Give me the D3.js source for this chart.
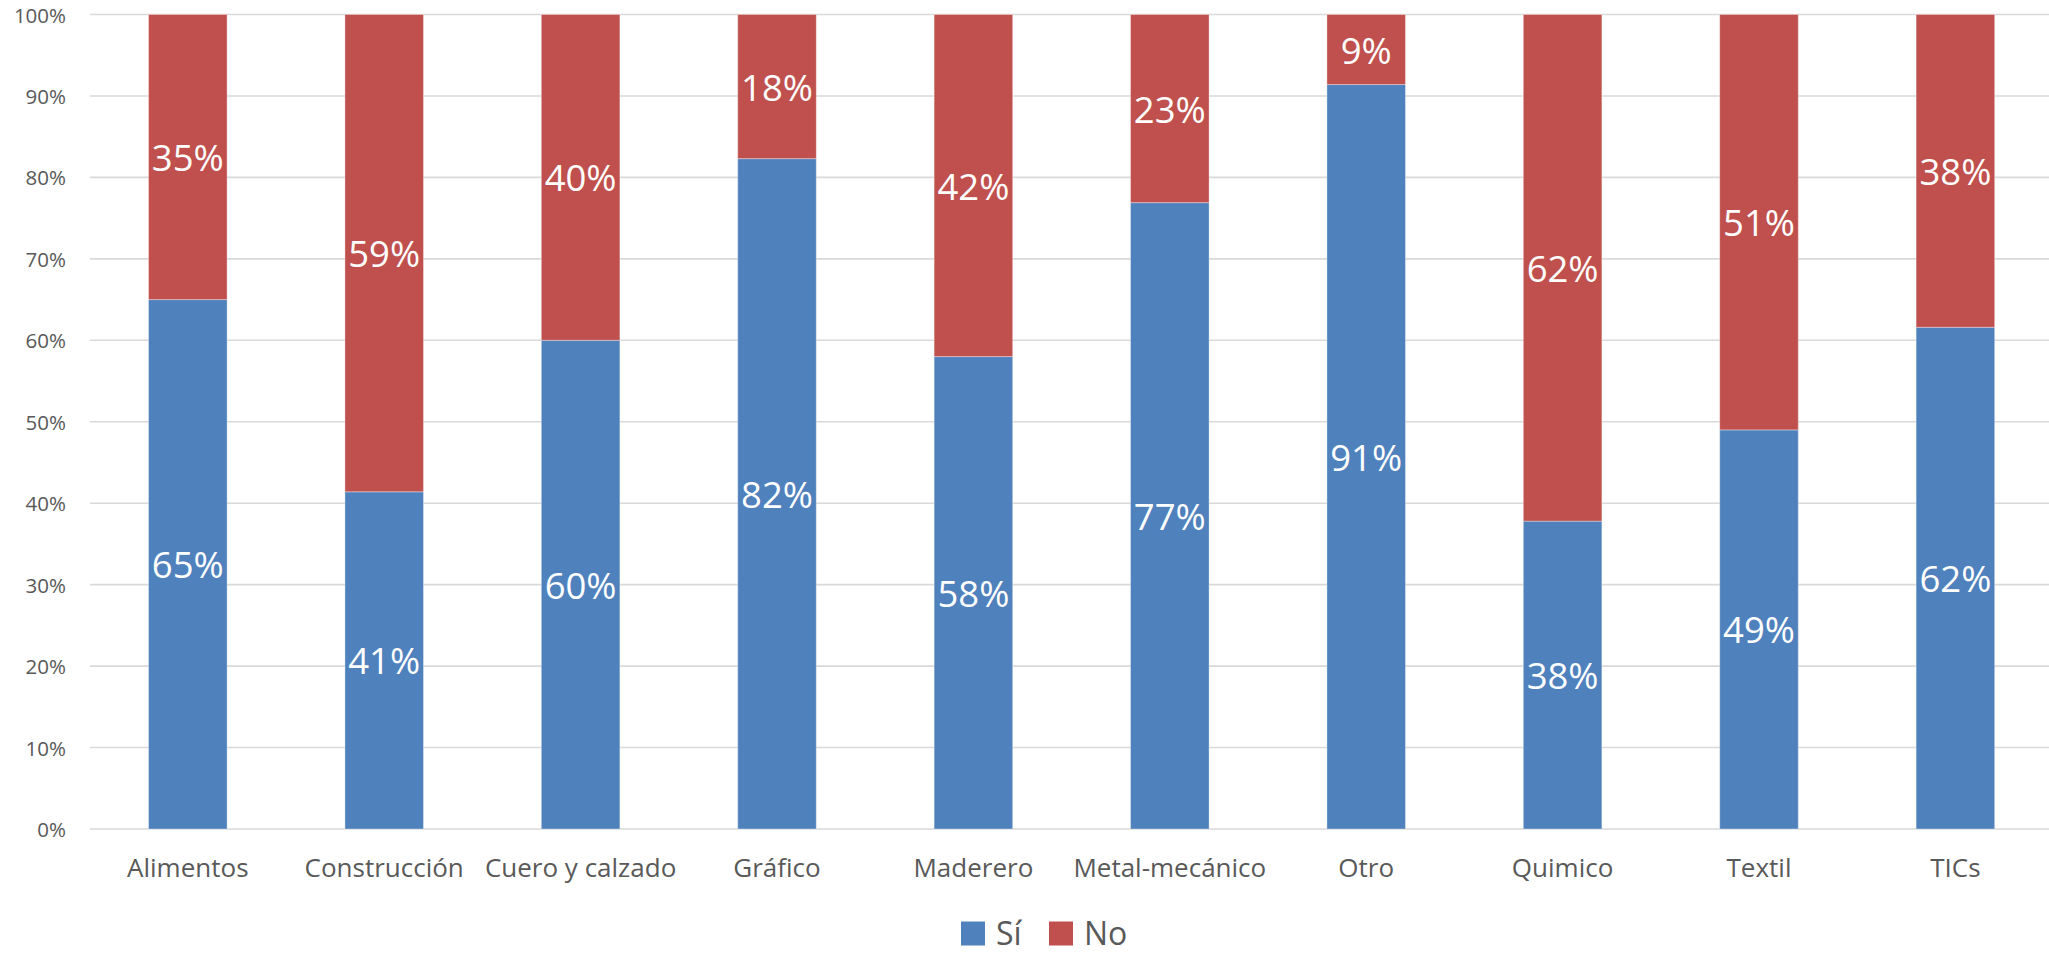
<!DOCTYPE html>
<html>
<head>
<meta charset="utf-8">
<script src="https://cdn.jsdelivr.net/npm/d3@7/dist/d3.min.js"></script>
<style>
  html, body { margin: 0; padding: 0; background: #fff; }
  svg { display: block; font-family: "Open Sans", "Noto Sans", sans-serif; }
</style>
</head>
<body>
<svg id="chart" width="2049" height="953"></svg>
<script>
const categories = ["Alimentos", "Construcción", "Cuero y calzado", "Gráfico", "Maderero", "Metal-mecánico", "Otro", "Quimico", "Textil", "TICs"];
const siValues = [0.650, 0.414, 0.600, 0.823, 0.580, 0.769, 0.914, 0.378, 0.490, 0.616];
const noValues = [0.350, 0.586, 0.400, 0.177, 0.420, 0.231, 0.086, 0.622, 0.510, 0.384];
const seriesNames = ["Sí", "No"];
const seriesColors = ["#4F81BD", "#C0504D"];
const yTicks = [0, 0.1, 0.2, 0.3, 0.4, 0.5, 0.6, 0.7, 0.8, 0.9, 1.0];

const svg = d3.select("#chart");
const W = 2049, H = 953;
const plot = { left: 89.6, right: 2053.6, top: 14.5, bottom: 829 };

const x = d3.scaleBand().domain(categories).range([plot.left, plot.right]).paddingInner(0.6).paddingOuter(0.3);
const y = d3.scaleLinear().domain([0, 1]).range([plot.bottom, plot.top]);

const textColor = "#595959";

// gridlines
svg.append("g").selectAll("line").data(yTicks).join("line")
  .attr("x1", 90).attr("x2", W)
  .attr("y1", d => y(d)).attr("y2", d => y(d))
  .attr("stroke", "#D9D9D9").attr("stroke-width", 1.6);

// y axis labels
const fmt = d3.format(".0%");
svg.append("g").selectAll("text").data(yTicks).join("text")
  .attr("x", 66).attr("y", d => y(d))
  .attr("text-anchor", "end").attr("dominant-baseline", "central")
  .attr("font-size", 20.5).attr("fill", textColor)
  .text(d => fmt(d));

// stacked data
const rows = categories.map((c, i) => ({ cat: c, "Sí": siValues[i], "No": noValues[i] }));
const stack = d3.stack().keys(seriesNames)(rows);

const groups = svg.append("g").selectAll("g").data(stack).join("g")
  .attr("fill", (d, i) => seriesColors[i]);

groups.selectAll("rect").data(d => d).join("rect")
  .attr("x", d => x(d.data.cat))
  .attr("width", x.bandwidth())
  .attr("y", d => y(d[1]))
  .attr("height", d => y(d[0]) - y(d[1]))
  .attr("stroke", "#ffffff").attr("stroke-opacity", 0.35).attr("stroke-width", 1);

// data labels
groups.selectAll("text").data(d => d.map(v => ({ v, key: d.key }))).join("text")
  .attr("x", d => x(d.v.data.cat) + x.bandwidth() / 2)
  .attr("y", d => (y(d.v[0]) + y(d.v[1])) / 2)
  .attr("text-anchor", "middle").attr("dominant-baseline", "central")
  .attr("font-size", 36.5).attr("fill", "#ffffff")
  .text(d => fmt(d.v.data[d.key]));

// x axis labels
svg.append("g").selectAll("text").data(categories).join("text")
  .attr("x", d => x(d) + x.bandwidth() / 2)
  .attr("y", 876.5)
  .attr("text-anchor", "middle")
  .attr("font-size", 26).attr("fill", textColor)
  .text(d => d);

// legend
const legend = svg.append("g");
const legendItems = [
  { name: seriesNames[0], color: seriesColors[0], sx: 961, tx: 996 },
  { name: seriesNames[1], color: seriesColors[1], sx: 1049, tx: 1084 }
];
legendItems.forEach(it => {
  legend.append("rect").attr("x", it.sx).attr("y", 921.5).attr("width", 24).attr("height", 24).attr("fill", it.color);
  legend.append("text").attr("x", it.tx).attr("y", 944.5)
    .attr("font-size", 32).attr("fill", textColor).text(it.name);
});
</script>
</body>
</html>
